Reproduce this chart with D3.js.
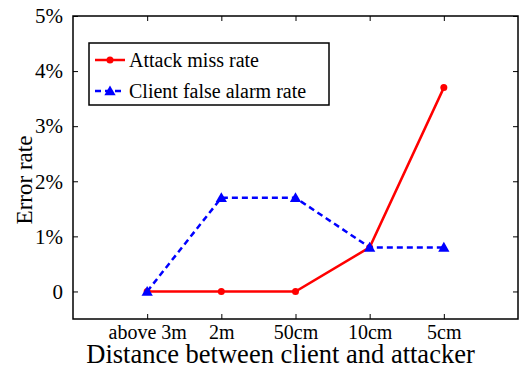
<!DOCTYPE html>
<html>
<head>
<meta charset="utf-8">
<script src="https://cdn.jsdelivr.net/npm/d3@7"></script>
<style>
  body { margin: 0; background: #fff; }
  text { font-family: "Liberation Serif", "Times New Roman", serif; fill: #000; }
</style>
</head>
<body>
<script>
var categories = ['above 3m', '2m', '50cm', '10cm', '5cm'];
var attackMiss = [0, 0, 0, 0.8, 3.7];
var clientFalse = [0, 1.7, 1.7, 0.8, 0.8];
var yTicks = [0, 1, 2, 3, 4, 5];

var margin = {top: 16, right: 1, bottom: 47, left: 73},
    width = 519 - margin.left - margin.right,
    height = 366 - margin.top - margin.bottom;

var xScale = d3.scaleLinear().domain([0, categories.length + 1]).range([0, width]),
    yScale = d3.scaleLinear().domain([-0.5, 5]).range([height, 0]);

var svg = d3.select('body').append('svg')
    .attr('width', 519)
    .attr('height', 366)
  .append('g')
    .attr('transform', 'translate(' + margin.left + ',' + margin.top + ')');

var catIdx = categories.map(function(d, i) { return i + 1; });

// axes (ticks point inward, mirrored on top and right)
var xAxis = d3.axisBottom(xScale).tickValues(catIdx)
    .tickFormat(function(d) { return categories[d - 1]; })
    .tickSizeInner(-5).tickSizeOuter(0).tickPadding(6);
var xTop = d3.axisTop(xScale).tickValues(catIdx).tickFormat('')
    .tickSizeInner(-5).tickSizeOuter(0);
var yAxis = d3.axisLeft(yScale).tickValues(yTicks)
    .tickFormat(function(d) { return d === 0 ? '0' : d + '%'; })
    .tickSizeInner(-5).tickSizeOuter(0).tickPadding(10);
var yRight = d3.axisRight(yScale).tickValues(yTicks).tickFormat('')
    .tickSizeInner(-5).tickSizeOuter(0);

function styleAxis(g, size) {
  g.attr('font-family', '"Liberation Serif", serif').attr('font-size', size);
  g.select('.domain').remove();
  g.selectAll('line').attr('stroke', '#000').attr('stroke-width', 1);
  g.selectAll('text').style('font-size', size + 'px')
    .style('font-family', '"Liberation Serif", serif');
}

svg.append('g').attr('transform', 'translate(0,' + height + ')').call(xAxis).call(styleAxis, 20);
svg.append('g').call(xTop).call(styleAxis, 20);
svg.append('g').call(yAxis).call(styleAxis, 21);
svg.append('g').attr('transform', 'translate(' + width + ',0)').call(yRight).call(styleAxis, 20);

svg.append('rect')
    .attr('x', 0).attr('y', 0)
    .attr('width', width).attr('height', height)
    .attr('fill', 'none').attr('stroke', '#000').attr('stroke-width', 1.5);

// lines
var line = d3.line()
    .x(function(d, i) { return xScale(i + 1); })
    .y(function(d) { return yScale(d); });

var tri = d3.symbol().type(d3.symbolTriangle).size(55);

svg.append('path').datum(attackMiss)
    .attr('d', line)
    .attr('fill', 'none').attr('stroke', '#ff0000')
    .attr('stroke-width', 2.5);

svg.selectAll('.dot').data(attackMiss).enter().append('circle')
    .attr('class', 'dot')
    .attr('cx', function(d, i) { return xScale(i + 1); })
    .attr('cy', function(d) { return yScale(d); })
    .attr('r', 3.5)
    .attr('fill', '#ff0000');

svg.append('path').datum(clientFalse)
    .attr('d', line)
    .attr('fill', 'none').attr('stroke', '#0000ff')
    .attr('stroke-width', 2.5).attr('stroke-dasharray', '6,4');

svg.selectAll('.tri').data(clientFalse).enter().append('path')
    .attr('class', 'tri')
    .attr('d', tri)
    .attr('transform', function(d, i) { return 'translate(' + xScale(i + 1) + ',' + (yScale(d) + 1) + ')'; })
    .attr('fill', '#0000ff');

// axis titles
svg.append('text')
    .attr('x', width / 2 - 15)
    .attr('y', height + 44)
    .style('font-size', '26.5px')
    .style('text-anchor', 'middle')
    .text('Distance between client and attacker');

svg.append('text')
    .attr('transform', 'rotate(-90)')
    .attr('x', -(180 - margin.top))
    .attr('y', -41)
    .style('font-size', '23px')
    .style('text-anchor', 'middle')
    .text('Error rate');

// legend
var legend = svg.append('g').attr('transform', 'translate(' + (89 - margin.left) + ',' + (43 - margin.top) + ')');
legend.append('rect')
    .attr('width', 240).attr('height', 62)
    .attr('fill', '#fff').attr('stroke', '#000').attr('stroke-width', 1.5);

var legendItems = [
  {name: 'Attack miss rate', color: '#ff0000', dash: null, marker: 'circle'},
  {name: 'Client false alarm rate', color: '#0000ff', dash: '6,4', marker: 'tri'}
];

var item = legend.selectAll('.item').data(legendItems).enter().append('g')
    .attr('class', 'item')
    .attr('transform', function(d, i) { return 'translate(0,' + (17 + i * 31) + ')'; });

item.append('line')
    .attr('x1', 6).attr('x2', 36)
    .attr('stroke', function(d) { return d.color; })
    .attr('stroke-width', 2.5)
    .attr('stroke-dasharray', function(d) { return d.dash; });

item.each(function(d) {
  var g = d3.select(this);
  if (d.marker === 'circle') {
    g.append('circle').attr('cx', 21).attr('r', 3.5).attr('fill', d.color);
  } else {
    g.append('path').attr('d', tri).attr('transform', 'translate(21,1)').attr('fill', d.color);
  }
});

item.append('text')
    .attr('x', 40)
    .attr('dy', '0.35em')
    .style('font-size', '20px')
    .text(function(d) { return d.name; });
</script>
</body>
</html>
